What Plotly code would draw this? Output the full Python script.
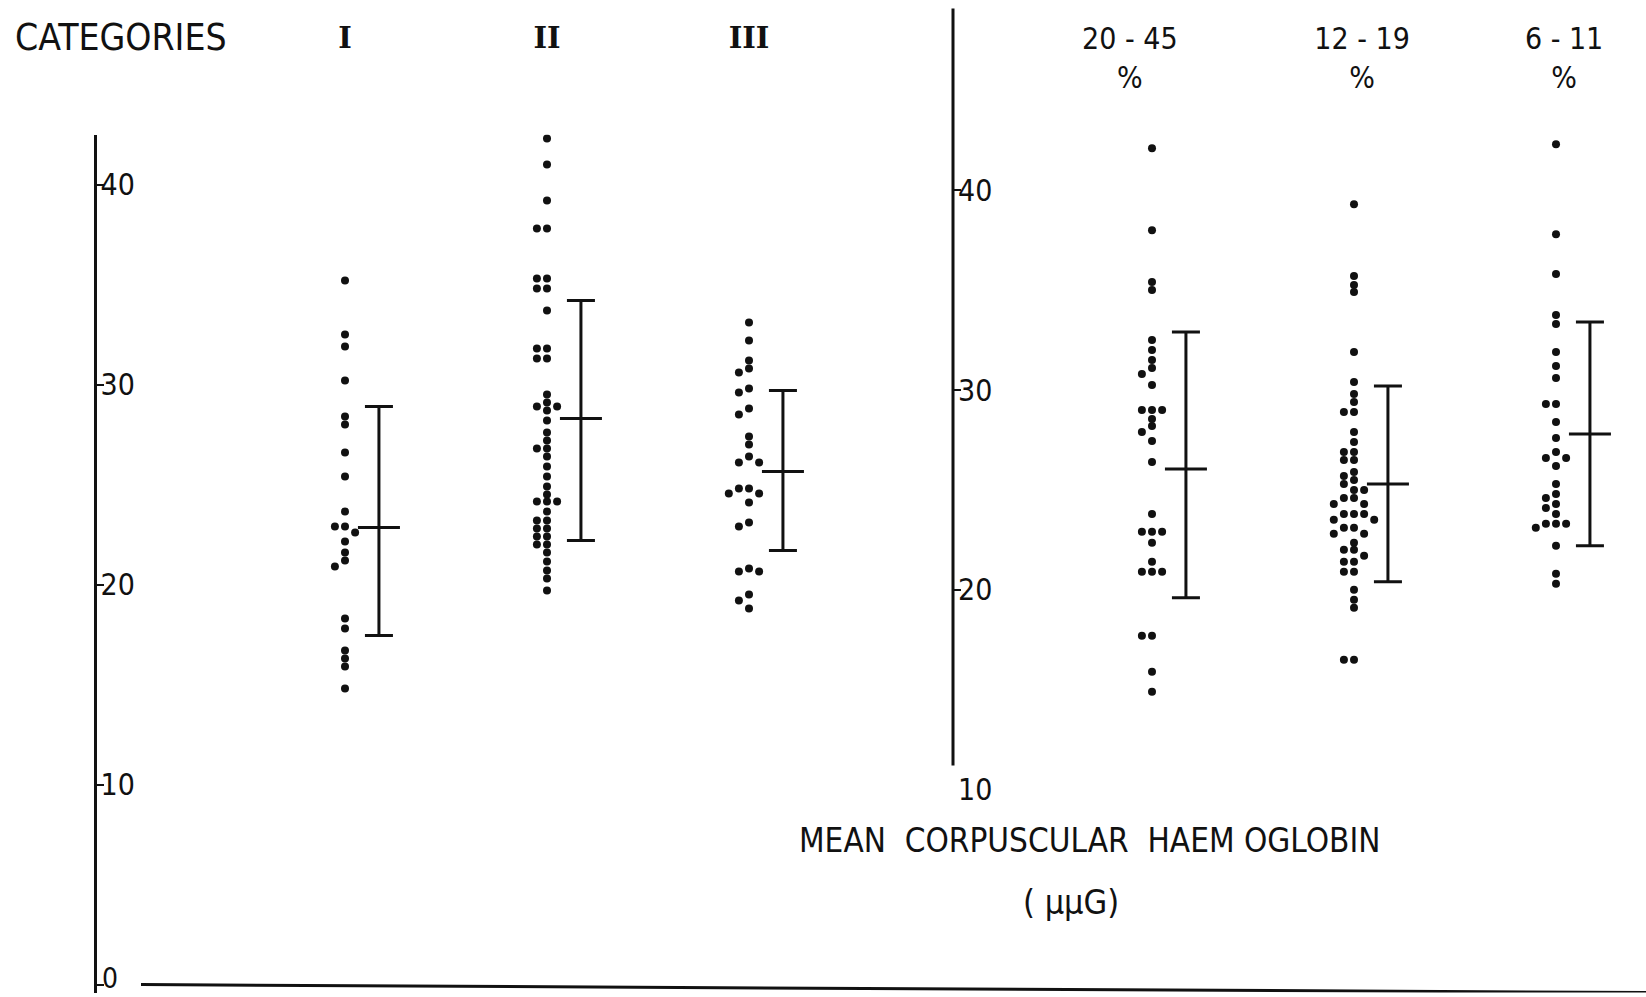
import plotly.graph_objects as go

# ---------------- data ----------------
left_categories = ["I", "II", "III"]
right_categories = ["20 - 45<br>%", "12 - 19<br>%", "6 - 11<br>%"]

cat_I = [35.2, 32.5, 31.9, 30.2, 28.4, 28.0, 26.6, 25.4, 23.65, 22.9, 22.9, 22.6,
         22.15, 21.6, 21.2, 20.9, 18.3, 17.8, 16.7, 16.3, 15.9, 14.8]
cat_II = [42.3, 41.0, 39.2, 37.8, 37.8, 35.3, 35.3, 34.8, 34.8, 33.7, 31.8, 31.8,
          31.3, 31.3, 29.5, 29.1, 28.9, 28.9, 28.7, 28.2, 27.6, 27.2, 26.8, 26.8,
          26.4, 25.9, 25.4, 24.9, 24.5, 24.15, 24.15, 24.15, 23.65, 23.2, 23.2,
          22.8, 22.8, 22.4, 22.4, 22.0, 22.0, 21.6, 21.15, 20.7, 20.3, 19.7]
cat_III = [33.1, 32.2, 31.2, 30.8, 30.6, 29.8, 29.6, 28.8, 28.5, 27.4, 27.0, 26.4,
           26.1, 26.1, 24.8, 24.8, 24.55, 24.55, 24.1, 23.1, 22.9, 20.8, 20.65,
           20.65, 19.5, 19.2, 18.8]

grp_20_45 = [42.1, 38.0, 35.4, 35.0, 32.5, 32.0, 31.5, 31.1, 30.8, 30.25, 29.0, 29.0,
             29.0, 28.55, 28.2, 27.9, 27.45, 26.4, 23.8, 22.9, 22.9, 22.9, 22.35,
             21.4, 20.9, 20.9, 20.9, 17.7, 17.7, 15.9, 14.9]
grp_12_19 = [39.3, 35.7, 35.25, 34.9, 31.9, 30.4, 29.8, 29.4, 28.9, 28.9, 27.9, 27.4,
             26.9, 26.9, 26.5, 26.5, 25.9, 25.7, 25.5, 25.3, 25.0, 25.0, 24.6, 24.6,
             24.3, 24.3, 23.8, 23.8, 23.8, 23.5, 23.5, 23.1, 23.1, 22.8, 22.8, 22.35,
             22.0, 22.0, 21.7, 21.4, 21.4, 20.9, 20.9, 20.0, 19.5, 19.1, 16.5, 16.5]
grp_6_11 = [42.3, 37.8, 35.8, 33.75, 33.3, 31.9, 31.2, 30.6, 29.3, 29.3, 28.4, 27.6,
            26.9, 26.6, 26.6, 26.2, 25.3, 24.8, 24.6, 24.3, 24.1, 23.8, 23.3, 23.3,
            23.3, 23.1, 22.2, 20.8, 20.3]

left_means = [22.85, 28.3, 25.65]
left_upper = [28.9, 34.2, 29.7]
left_lower = [17.45, 22.2, 21.7]
right_means = [26.05, 25.3, 27.8]
right_upper = [32.9, 30.2, 33.4]
right_lower = [19.6, 20.4, 22.2]

left_yticks = [0, 10, 20, 30, 40]
right_yticks = [10, 20, 30, 40]

title_text = "MEAN  CORPUSCULAR  HAEM OGLOBIN"
unit_text = "( µµG)"
corner_text = "CATEGORIES"

# ---------------- layout geometry ----------------
W = 1646
REF_H = 997           # design frame height
FIG_H = 1015          # figure height (design frame is proportionally mapped)
PX_X = 202.0          # pixels per category step
BAR_OFFSET = 0.168    # mean/SD bar to the right of the dots
SANS = "DejaVu Sans Condensed, Liberation Sans Narrow, Arial Narrow, sans-serif"
SERIF = "DejaVu Serif, Liberation Serif, serif"
INK = "#111111"


def py(pix):
    return 1.0 - pix / REF_H


def swarm(values, center, step=0.05, gap=0.33):
    placed, xs = [], []
    for v in values:
        x = center
        for k in [0, -1, 1, -2, 2, -3, 3]:
            x = center + k * step
            if all(abs(x - a) > step / 2 or abs(v - b) >= gap for a, b in placed):
                break
        placed.append((x, v))
        xs.append(x)
    return xs


fig = go.Figure()

left_sets = [cat_I, cat_II, cat_III]
right_sets = [grp_20_45, grp_12_19, grp_6_11]

for i, vals in enumerate(left_sets):
    fig.add_trace(go.Scatter(
        x=swarm(vals, i), y=vals, mode="markers", xaxis="x", yaxis="y",
        marker=dict(size=8, color=INK), showlegend=False, hoverinfo="y"))
for i, vals in enumerate(right_sets):
    fig.add_trace(go.Scatter(
        x=swarm(vals, i), y=vals, mode="markers", xaxis="x2", yaxis="y2",
        marker=dict(size=8, color=INK), showlegend=False, hoverinfo="y"))


def bars(means, upper, lower, xa, ya):
    return go.Scatter(
        x=[i + BAR_OFFSET for i in range(len(means))], y=means,
        mode="markers", xaxis=xa, yaxis=ya, showlegend=False,
        marker=dict(symbol="line-ew", size=30, color=INK,
                    line=dict(width=3, color=INK)),
        error_y=dict(type="data", symmetric=False,
                     array=[u - m for u, m in zip(upper, means)],
                     arrayminus=[m - l for m, l in zip(means, lower)],
                     width=14, thickness=3, color=INK))


fig.add_trace(bars(left_means, left_upper, left_lower, "x", "y"))
fig.add_trace(bars(right_means, right_upper, right_lower, "x2", "y2"))

left_x_lo = -345 / PX_X
right_x_lo = (953 - 1152) / PX_X

# the lowest left tick label sits on the page edge: drawn as a lifted label below
left_ticktext = ["" if v == 0 else str(v) for v in left_yticks]

fig.update_layout(
    width=W, height=FIG_H,
    margin=dict(l=0, r=0, t=0, b=0),
    paper_bgcolor="white", plot_bgcolor="rgba(0,0,0,0)",
    font=dict(family=SANS, color=INK),
    xaxis=dict(domain=[0, 905 / W], range=[left_x_lo, left_x_lo + 905 / PX_X],
               anchor="free", position=py(54), side="top",
               tickmode="array", tickvals=list(range(3)), ticktext=left_categories,
               ticks="", showline=False, showgrid=False, zeroline=False,
               tickfont=dict(family=SERIF, size=29, color=INK, weight="bold")),
    xaxis2=dict(domain=[953 / W, 1], range=[right_x_lo, right_x_lo + (W - 953) / PX_X],
                anchor="free", position=py(94), side="top",
                tickmode="array", tickvals=[-0.11, 1.04, 2.04], ticktext=right_categories,
                ticks="", showline=False, showgrid=False, zeroline=False,
                tickfont=dict(family=SANS, size=30, color=INK)),
    yaxis=dict(domain=[py(992.6), py(134.6)], range=[-0.4, 42.5],
               anchor="free", position=94.5 / W,
               showline=True, linewidth=3, linecolor=INK,
               tickmode="array", tickvals=left_yticks, ticktext=left_ticktext,
               ticks="inside", ticklen=7, tickwidth=2, tickcolor=INK,
               ticklabelposition="inside", ticklabeloverflow="allow",
               showgrid=False, zeroline=False,
               tickfont=dict(family=SANS, size=30, color=INK)),
    yaxis2=dict(domain=[py(789.6), py(0.4)], range=[10, 49.5],
                anchor="free", position=953 / W,
                showline=False,
                tickmode="array", tickvals=right_yticks,
                ticks="inside", ticklen=7, tickwidth=2, tickcolor=INK,
                ticklabelposition="inside", ticklabeloverflow="allow",
                showgrid=False, zeroline=False,
                tickfont=dict(family=SANS, size=30, color=INK)),
)

# "0" label of the left axis, lifted slightly so it stays on the page
fig.add_annotation(text=str(left_yticks[0]), xref="paper", yref="y",
                   x=100 / W, y=left_yticks[0], xanchor="left", yanchor="middle",
                   yshift=6, showarrow=False,
                   font=dict(family=SANS, size=28, color=INK))

# right-hand vertical axis line (stops short of the "10" label)
fig.add_shape(type="line", xref="paper", yref="y2",
              x0=953 / W, x1=953 / W, y0=11.2, y1=49.1,
              line=dict(color=INK, width=3))
# long baseline at zero
fig.add_shape(type="line", xref="paper", yref="y",
              x0=141 / W, x1=1.0, y0=0, y1=-0.4,
              line=dict(color=INK, width=3))

fig.add_annotation(text=corner_text, xref="paper", yref="paper",
                   x=13 / W, y=py(37), xanchor="left", yanchor="middle",
                   showarrow=False, font=dict(family=SANS, size=37, color=INK))
fig.add_annotation(text=title_text, xref="paper", yref="paper",
                   x=1089 / W, y=py(840), xanchor="center", yanchor="middle",
                   showarrow=False, font=dict(family=SANS, size=33, color=INK))
fig.add_annotation(text=unit_text, xref="paper", yref="paper",
                   x=1071 / W, y=py(902), xanchor="center", yanchor="middle",
                   showarrow=False, font=dict(family=SANS, size=34, color=INK))

fig.write_html(
    "out.html",
    config={"displayModeBar": False},
    post_script=(
        "document.documentElement.style.margin='0px';"
        "document.documentElement.style.overflow='hidden';"
        "document.body.style.margin='0px';"
        "document.body.style.overflow='hidden';"
        "var gd=document.getElementById('{plot_id}');"
        "gd.style.position='absolute';gd.style.left='0px';gd.style.top='0px';"
    ))
